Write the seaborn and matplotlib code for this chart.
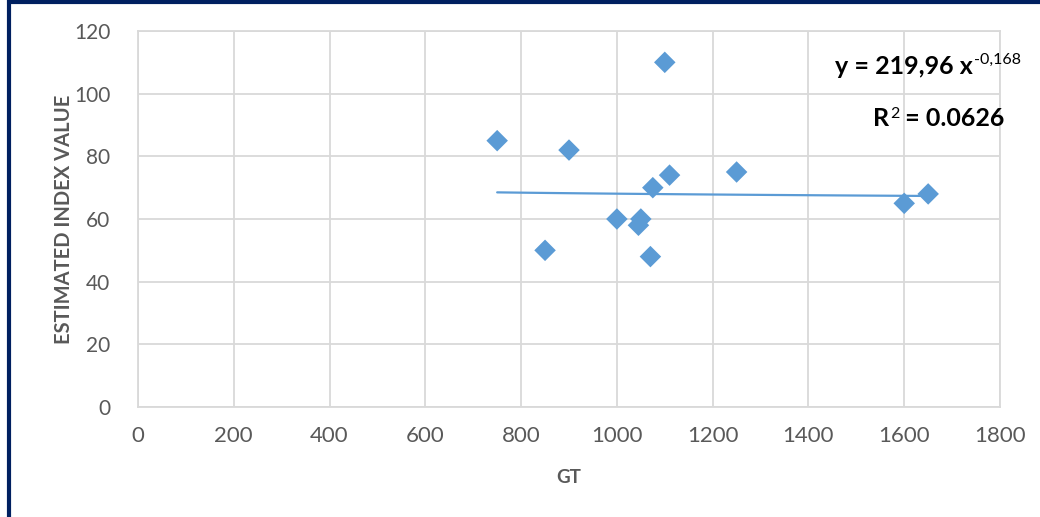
import numpy as np
import pandas as pd
import matplotlib
matplotlib.use("Agg")
import matplotlib.pyplot as plt
from matplotlib.lines import Line2D
import seaborn as sns

# values
gt = [750, 850, 900, 1000, 1050, 1045, 1070, 1075, 1100, 1110, 1250, 1600, 1650]
index_value = [85, 50, 82, 60, 60, 58, 48, 70, 110, 74, 75, 65, 68]
x_ticks = [0, 200, 400, 600, 800, 1000, 1200, 1400, 1600, 1800]
y_ticks = [0, 20, 40, 60, 80, 100, 120]
equation = "y = 219,96 x"
exponent = "-0,168"
r2_text = "0.0626"

POINT_COLOR = "#5B9BD5"
GRID_COLOR = "#D9D9D9"
TEXT_GREY = "#595959"
FRAME_COLOR = "#002060"

sns.set_style("white")
plt.rcParams['font.family'] = ['Lato', 'DejaVu Sans']

df = pd.DataFrame({"GT": gt, "value": index_value})

fig = plt.figure(figsize=(10.4, 5.17), dpi=100)
ax = fig.add_axes([138 / 1040, 1 - 407 / 517, 862 / 1040, 376 / 517])

sns.scatterplot(data=df, x="GT", y="value", ax=ax, marker="D", s=120,
                color=POINT_COLOR, edgecolor="none", zorder=3)

# power trendline fitted in log space
b, log_a = np.polyfit(np.log(df["GT"]), np.log(df["value"]), 1)
xs = np.linspace(df["GT"].min(), df["GT"].max(), 100)
ax.plot(xs, np.exp(log_a) * xs ** b, color=POINT_COLOR, linewidth=1.6, zorder=2)

ax.set_xlim(0, 1800)
ax.set_ylim(0, 120)
ax.set_xticks(x_ticks)
ax.set_yticks(y_ticks)
ax.grid(True, color=GRID_COLOR, linewidth=1.3)
ax.set_axisbelow(True)
for spine in ax.spines.values():
    spine.set_color(GRID_COLOR)
    spine.set_linewidth(1.3)
ax.tick_params(axis='both', length=0, labelcolor=TEXT_GREY)
ax.tick_params(axis='x', pad=14, labelsize=16)
ax.tick_params(axis='y', pad=20, labelsize=15)

ax.set_xlabel("GT", fontsize=13.5, fontweight='bold', color=TEXT_GREY, labelpad=16)
ax.set_ylabel("ESTIMATED INDEX VALUE", fontsize=14.5, fontweight='bold', color=TEXT_GREY, labelpad=0)

eq = fig.text(835 / 1040, 1 - 66 / 517, equation, fontsize=18, fontweight='bold',
              color='black', va='center', ha='left')
ax.annotate(exponent, xy=(1, 1), xycoords=eq, xytext=(1, 1), textcoords='offset points',
            fontsize=11.5, color='black', va='top', ha='left')
r_txt = fig.text(873 / 1040, 1 - 118 / 517, "R", fontsize=18, fontweight='bold',
                 color='black', va='center', ha='left')
ax.annotate("2", xy=(1, 1), xycoords=r_txt, xytext=(0.5, 0), textcoords='offset points',
            fontsize=11.5, color='black', va='top', ha='left')
ax.annotate(" = " + r2_text, xy=(1, 0), xycoords=r_txt, xytext=(7, 0), textcoords='offset points',
            fontsize=18, fontweight='bold', color='black', va='bottom', ha='left')

# dark frame on left and top edge
fig.add_artist(Line2D([9 / 1040, 9 / 1040], [0, 1], color=FRAME_COLOR, linewidth=3))
fig.add_artist(Line2D([9 / 1040, 1], [1 - 1.5 / 517, 1 - 1.5 / 517], color=FRAME_COLOR, linewidth=3))

fig.savefig("out.png", dpi=100)
